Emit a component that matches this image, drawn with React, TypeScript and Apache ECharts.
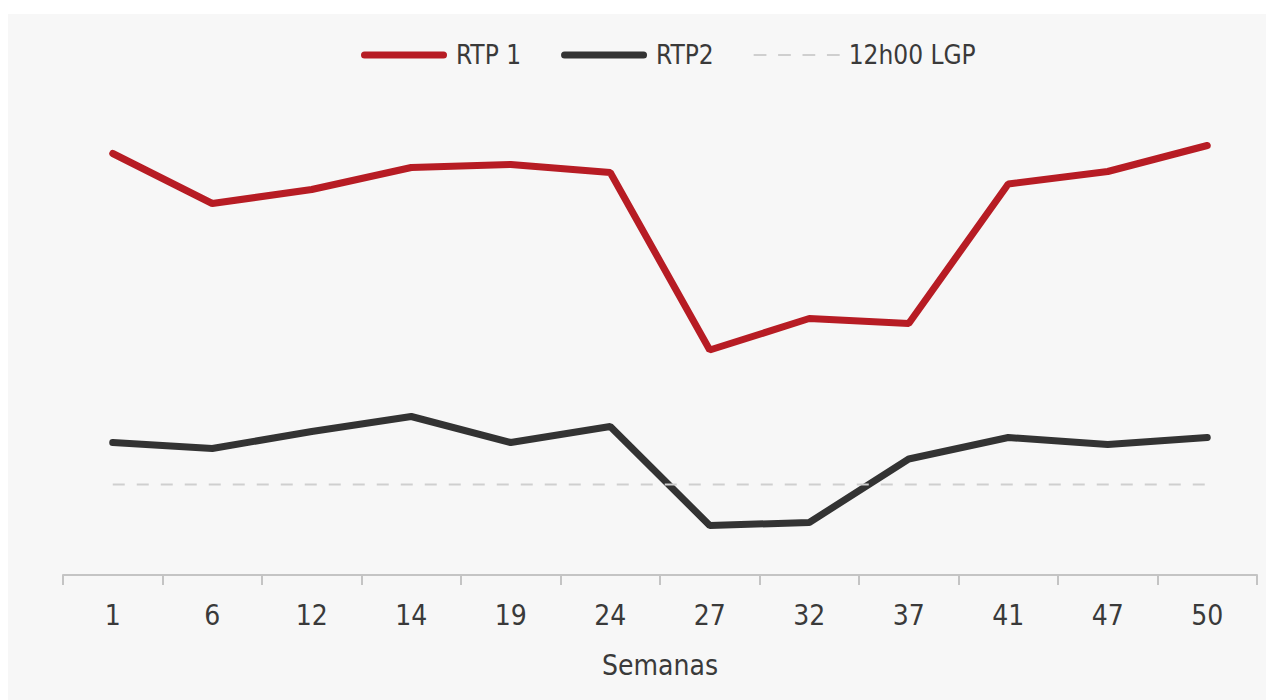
import React, { useEffect, useRef } from "react";
import * as echarts from "echarts";

const weeks = ["1", "6", "12", "14", "19", "24", "27", "32", "37", "41", "47", "50"];
const rtp1 = [84.3, 74.3, 77.1, 81.5, 82.1, 80.5, 45.0, 51.3, 50.3, 78.2, 80.7, 85.9];
const rtp2 = [26.5, 25.3, 28.7, 31.7, 26.5, 29.7, 9.9, 10.5, 23.2, 27.5, 26.1, 27.5];
const lgp = [18.1, 18.1, 18.1, 18.1, 18.1, 18.1, 18.1, 18.1, 18.1, 18.1, 18.1, 18.1];
const seriesNames = ["RTP 1", "RTP2", "12h00 LGP"];

const FONT = "'DejaVu Sans Condensed', 'Liberation Sans Narrow', Roboto, sans-serif";
const TEXT = "#3a3a3a";

const solidIcon = "path://M3.5,0 L82.5,0 A3.5,3.5 0 0 1 82.5,7 L3.5,7 A3.5,3.5 0 0 1 3.5,0 Z";
const dashIcon =
  "path://M0,0 h12 v2 h-12 Z M23,0 h12 v2 h-12 Z M46,0 h12 v2 h-12 Z M69,0 h12 v2 h-12 Z";

export default function App() {
  const ref = useRef<HTMLDivElement>(null);
  useEffect(() => {
    if (!ref.current) return;
    const chart = echarts.init(ref.current, undefined, { renderer: "svg" });
    chart.setOption({
      animation: false,
      backgroundColor: "#f7f7f7",
      textStyle: { fontFamily: FONT, color: TEXT },
      legend: {
        left: 348,
        top: 23,
        itemWidth: 86,
        itemHeight: 7,
        itemGap: 40,
        textStyle: { fontFamily: FONT, fontSize: 26, color: TEXT, padding: [0, 0, 0, 4] },
        data: [
          { name: seriesNames[0], icon: solidIcon },
          { name: seriesNames[1], icon: solidIcon },
          { name: seriesNames[2], icon: dashIcon },
        ],
      },
      grid: { left: 55, right: 9, top: 61, bottom: 125 },
      xAxis: {
        type: "category",
        data: weeks,
        boundaryGap: true,
        axisLine: { show: true, lineStyle: { color: "#c4c4c4", width: 2 } },
        axisTick: { show: true, length: 10, lineStyle: { color: "#c4c4c4", width: 2 } },
        axisLabel: { margin: 26, fontSize: 28, color: TEXT, fontFamily: FONT },
        name: "Semanas",
        nameLocation: "middle",
        nameGap: 76,
        nameTextStyle: { fontSize: 28, color: TEXT, fontFamily: FONT },
      },
      yAxis: { type: "value", min: 0, max: 100, show: false, splitLine: { show: false } },
      series: [
        {
          name: seriesNames[0],
          type: "line",
          data: rtp1,
          symbol: "none",
          lineStyle: { color: "#b71c24", width: 7, cap: "round" },
          itemStyle: { color: "#b71c24" },
        },
        {
          name: seriesNames[1],
          type: "line",
          data: rtp2,
          symbol: "none",
          lineStyle: { color: "#333333", width: 7, cap: "round" },
          itemStyle: { color: "#333333" },
        },
        {
          name: seriesNames[2],
          type: "line",
          data: lgp,
          symbol: "none",
          lineStyle: { color: "#cfcfcf", width: 2, type: [12, 12] },
          itemStyle: { color: "#cfcfcf" },
        },
      ],
    });
    return () => chart.dispose();
  }, []);
  return (
    <div
      ref={ref}
      style={{ position: "absolute", left: 8, top: 14, width: 1258, height: 686 }}
    />
  );
}
